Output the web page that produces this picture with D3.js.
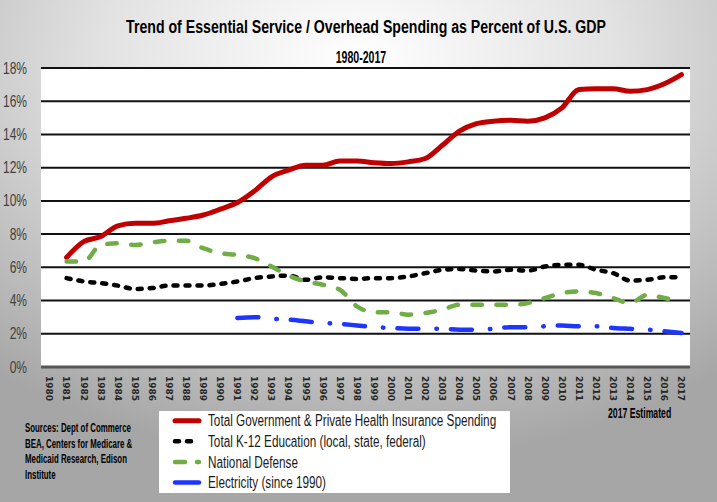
<!DOCTYPE html>
<html>
<head>
<meta charset="utf-8">
<script src="https://cdn.jsdelivr.net/npm/d3@7"></script>
<style>
  body { margin: 0; padding: 0; overflow: hidden; }
  svg { display: block; }
</style>
</head>
<body>
<div id="container1"></div>
<script>
// tick labels on the x axis
var years = ['1980','1981','1982','1983','1984','1985','1986','1987','1988','1989',
  '1990','1991','1992','1993','1994','1995','1996','1997','1998','1999',
  '2000','2001','2002','2003','2004','2005','2006','2007','2008','2009',
  '2010','2011','2012','2013','2014','2015','2016','2017'];

var yTicks = [0, 2, 4, 6, 8, 10, 12, 14, 16, 18];

// series start at the 1981 slot (electricity at 1991)
var healthStart = '1981',
    elecStart = '1991';

var health = [6.6, 7.55, 7.85, 8.5, 8.65, 8.65, 8.8, 8.95, 9.15, 9.5,
  9.9, 10.6, 11.45, 11.85, 12.15, 12.15, 12.4, 12.4, 12.3, 12.25,
  12.35, 12.55, 13.35, 14.2, 14.65, 14.8, 14.85, 14.8, 15.0, 15.6,
  16.7, 16.75, 16.75, 16.6, 16.7, 17.05, 17.6];

var k12 = [5.35, 5.15, 5.05, 4.9, 4.7, 4.75, 4.9, 4.9, 4.9, 5.0,
  5.15, 5.35, 5.45, 5.5, 5.25, 5.4, 5.35, 5.3, 5.35, 5.35,
  5.45, 5.65, 5.85, 5.9, 5.8, 5.75, 5.85, 5.8, 6.05, 6.15,
  6.15, 5.85, 5.65, 5.2, 5.25, 5.4, 5.4];

var defense = [6.35, 6.35, 7.35, 7.45, 7.35, 7.5, 7.6, 7.6, 7.15, 6.85,
  6.75, 6.55, 6.05, 5.5, 5.15, 4.95, 4.65, 3.65, 3.3, 3.3,
  3.15, 3.25, 3.45, 3.75, 3.75, 3.75, 3.75, 3.85, 4.15, 4.45,
  4.55, 4.45, 4.15, 3.85, 4.35, 4.15, 3.95];

var electricity = [2.95, 3.0, 2.9, 2.85, 2.75, 2.65, 2.6, 2.5, 2.4, 2.35,
  2.3, 2.3, 2.3, 2.25, 2.25, 2.3, 2.4, 2.4, 2.45, 2.5,
  2.45, 2.45, 2.35, 2.3, 2.25, 2.15, 2.05];

var seriesNames = ['Total Government & Private Health Insurance Spending',
  'Total K-12 Education (local, state, federal)',
  'National Defense',
  'Electricity (since 1990)'];

var sources = ['Sources: Dept of Commerce', 'BEA, Centers for Medicare &', 'Medicaid Research, Edison', 'Institute'];

var width = 717,
    height = 502,
    plotLeft = 41,
    plotRight = 690,
    plotTop = 68,
    plotBottom = 367;

var font = '"Liberation Sans", Arial, sans-serif';

// no narrow font installed, so squeeze the text sideways instead
function condense(sel, k) {
  sel.each(function(){
    var w = this.getComputedTextLength();
    d3.select(this)
      .attr('textLength', w * k)
      .attr('lengthAdjust', 'spacingAndGlyphs');
  });
}

var svg = d3.select('#container1')
  .append('svg')
  .attr('width', width)
  .attr('height', height);

// grey backdrop, lighter toward the title
var defs = svg.append('defs');
var grad = defs.append('radialGradient')
  .attr('id', 'bg')
  .attr('cx', '50%').attr('cy', '12%')
  .attr('r', '80%');
grad.append('stop').attr('offset', '0%').attr('stop-color', '#ffffff');
grad.append('stop').attr('offset', '45%').attr('stop-color', '#e2e2e2');
grad.append('stop').attr('offset', '100%').attr('stop-color', '#a6a6a6');

svg.append('rect')
  .attr('width', width)
  .attr('height', height)
  .attr('fill', 'url(#bg)');

var xScale = d3.scalePoint()
  .domain(years)
  .range([plotLeft, plotRight])
  .padding(0.5);

var yScale = d3.scaleLinear()
  .domain([0, 18])
  .range([plotBottom, plotTop]);

// white plot area
svg.append('rect')
  .attr('x', plotLeft)
  .attr('y', plotTop - 1)
  .attr('width', plotRight - plotLeft)
  .attr('height', plotBottom - plotTop + 1)
  .attr('fill', '#ffffff');

// gridlines + y labels
svg.append('g')
  .selectAll('line')
  .data(yTicks.filter(function(d){ return d > 0; }))
  .enter()
  .append('line')
    .attr('x1', plotLeft)
    .attr('x2', plotRight)
    .attr('y1', function(d){ return yScale(d); })
    .attr('y2', function(d){ return yScale(d); })
    .attr('stroke', '#111')
    .attr('stroke-width', 2);

svg.append('line')
  .attr('x1', plotLeft)
  .attr('x2', plotRight)
  .attr('y1', yScale(0))
  .attr('y2', yScale(0))
  .attr('stroke', '#555')
  .attr('stroke-width', 3);

svg.append('g')
  .selectAll('text')
  .data(yTicks)
  .enter()
  .append('text')
    .attr('x', 27)
    .attr('y', function(d){ return yScale(d); })
    .attr('dy', '0.35em')
    .attr('text-anchor', 'end')
    .style('font-family', font)
    .style('font-size', '16px')
    .attr('fill', '#404040')
    .text(function(d){ return d + '%'; })
    .call(condense, 0.75);

// x labels, turned to read downward
svg.append('g')
  .selectAll('text')
  .data(years)
  .enter()
  .append('text')
    .attr('transform', function(d){ return 'translate(' + xScale(d) + ',376) rotate(90)'; })
    .attr('dy', '0.35em')
    .style('font-family', '"DejaVu Sans", sans-serif')
    .style('font-weight', 'bold')
    .style('font-size', '9px')
    .attr('fill', '#262626')
    .text(function(d){ return d; });

function withYears(values, start) {
  var i0 = years.indexOf(start);
  return values.map(function(v, i){ return { year: years[i0 + i], value: v }; });
}

var line = d3.line()
  .x(function(d){ return xScale(d.year); })
  .y(function(d){ return yScale(d.value); })
  .curve(d3.curveMonotoneX);

var series = [
  { name: seriesNames[0], data: withYears(health, healthStart), color: '#c00000', dash: null, legDash: null, w: 5 },
  { name: seriesNames[1], data: withYears(k12, healthStart), color: '#000000', dash: '4,8', legDash: '4,8', w: 4.5 },
  { name: seriesNames[2], data: withYears(defense, healthStart), color: '#70ad47', dash: '9.5,14.5', legDash: '10,12', w: 4.5 },
  { name: seriesNames[3], data: withYears(electricity, elecStart), color: '#1f35ff', dash: '21,18,0.5,14', legDash: null, w: 4.5 }
];

svg.append('g')
  .selectAll('path')
  .data(series)
  .enter()
  .append('path')
    .attr('d', function(d){ return line(d.data); })
    .attr('fill', 'none')
    .attr('stroke', function(d){ return d.color; })
    .attr('stroke-width', function(d){ return d.w; })
    .attr('stroke-linecap', 'round')
    .attr('stroke-linejoin', 'round')
    .attr('stroke-dasharray', function(d){ return d.dash; });

// titles
svg.append('text')
  .attr('x', 366)
  .attr('y', 33)
  .attr('text-anchor', 'middle')
  .style('font-family', font)
  .style('font-weight', 'bold')
  .style('font-size', '18px')
  .attr('fill', '#000')
  .text('Trend of Essential Service / Overhead Spending as Percent of U.S. GDP')
  .call(condense, 0.785);

svg.append('text')
  .attr('x', 361)
  .attr('y', 63)
  .attr('text-anchor', 'middle')
  .style('font-family', font)
  .style('font-weight', 'bold')
  .style('font-size', '16px')
  .attr('fill', '#000')
  .text('1980-2017')
  .call(condense, 0.66);

svg.append('text')
  .attr('x', 608)
  .attr('y', 418)
  .style('font-family', font)
  .style('font-weight', 'bold')
  .style('font-size', '14px')
  .attr('fill', '#000')
  .text('2017 Estimated')
  .call(condense, 0.62);

// sources note
svg.append('g')
  .selectAll('text')
  .data(sources)
  .enter()
  .append('text')
    .attr('x', 25)
    .attr('y', function(d, i){ return 432 + i * 15.7; })
    .style('font-family', font)
    .style('font-weight', 'bold')
    .style('font-size', '12.5px')
    .attr('fill', '#000')
    .text(function(d){ return d; })
    .call(condense, 0.63);

// legend
var legend = svg.append('g');
legend.append('rect')
  .attr('x', 159)
  .attr('y', 411)
  .attr('width', 351)
  .attr('height', 82)
  .attr('fill', '#fff');

var legendRow = legend.selectAll('g.row')
  .data(series)
  .enter()
  .append('g')
    .attr('class', 'row')
    .attr('transform', function(d, i){ return 'translate(0,' + (420.7 + i * 20.6) + ')'; });

legendRow.append('line')
  .attr('x1', 175)
  .attr('x2', 199)
  .attr('stroke', function(d){ return d.color; })
  .attr('stroke-width', function(d){ return d.w; })
  .attr('stroke-linecap', 'round')
  .attr('stroke-dasharray', function(d){ return d.legDash; });

legendRow.append('text')
  .attr('x', 208)
  .attr('dy', '0.35em')
  .style('font-family', font)
  .style('font-size', '16px')
  .attr('fill', '#1a1a1a')
  .text(function(d){ return d.name; })
  .call(condense, 0.733);
</script>
</body>
</html>
